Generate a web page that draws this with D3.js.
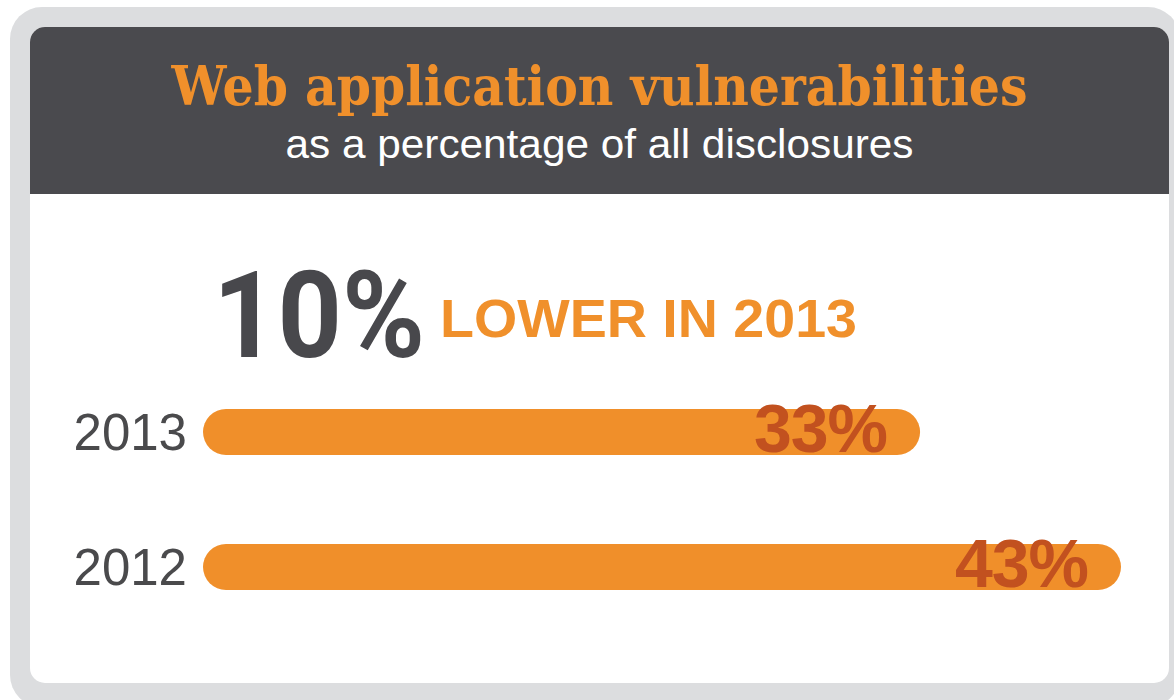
<!DOCTYPE html>
<html>
<head>
<meta charset="utf-8">
<script src="https://cdn.jsdelivr.net/npm/d3@7"></script>
<style>
  html, body { margin: 0; padding: 0; background: #ffffff; }
  svg { display: block; }
</style>
</head>
<body>
<svg id="chart" width="1174" height="700"></svg>
<script>
// Share of all disclosures that were web application vulnerabilities
const years = ["2013", "2012"];
const shares = [33, 43];
const valueLabels = ["33%", "43%"];
const titleText = "Web application vulnerabilities";
const subtitleText = "as a percentage of all disclosures";
const changeValue = "10%";
const changeText = "LOWER IN 2013";

const W = 1174, H = 700;
const svg = d3.select("#chart");

const colors = {
  frame: "#dcdddf",
  header: "#4a4a4e",
  orange: "#f0902b",
  bar: "#f08f2a",
  value: "#c2511f",
  dark: "#48484c",
  year: "#4a4a4c"
};

// Outer grey frame
svg.append("rect")
  .attr("x", 10).attr("y", 7)
  .attr("width", 1170).attr("height", 700)
  .attr("rx", 32).attr("ry", 32)
  .attr("fill", colors.frame);

// White card
const card = { x: 30, y: 27, w: 1139, h: 656, r: 15 };
svg.append("rect")
  .attr("x", card.x).attr("y", card.y)
  .attr("width", card.w).attr("height", card.h)
  .attr("rx", card.r).attr("ry", card.r)
  .attr("fill", "#ffffff");

// Dark header band with rounded top corners
const headerH = 167;
const hp = d3.path();
hp.moveTo(card.x, card.y + headerH);
hp.lineTo(card.x, card.y + card.r);
hp.arcTo(card.x, card.y, card.x + card.r, card.y, card.r);
hp.lineTo(card.x + card.w - card.r, card.y);
hp.arcTo(card.x + card.w, card.y, card.x + card.w, card.y + card.r, card.r);
hp.lineTo(card.x + card.w, card.y + headerH);
hp.closePath();
svg.append("path").attr("d", hp.toString()).attr("fill", colors.header);

const cx = card.x + card.w / 2;

svg.append("text")
  .attr("x", cx).attr("y", 105)
  .attr("text-anchor", "middle")
  .attr("font-family", "'DejaVu Serif', serif")
  .attr("font-weight", "bold")
  .attr("font-size", 55)
  .attr("textLength", 856)
  .attr("lengthAdjust", "spacingAndGlyphs")
  .attr("fill", colors.orange)
  .text(titleText);

svg.append("text")
  .attr("x", cx).attr("y", 158)
  .attr("text-anchor", "middle")
  .attr("font-family", "'Liberation Sans', Arial, sans-serif")
  .attr("font-size", 41)
  .attr("textLength", 628)
  .attr("lengthAdjust", "spacingAndGlyphs")
  .attr("fill", "#ffffff")
  .text(subtitleText);

// Headline figure
svg.append("text")
  .attr("x", 213).attr("y", 357)
  .attr("font-family", "Roboto, 'Liberation Sans', sans-serif")
  .attr("font-weight", 700)
  .attr("font-size", 121)
  .attr("textLength", 212)
  .attr("lengthAdjust", "spacingAndGlyphs")
  .attr("fill", colors.dark)
  .text(changeValue);

svg.append("text")
  .attr("x", 440).attr("y", 337)
  .attr("font-family", "'Liberation Sans', Arial, sans-serif")
  .attr("font-weight", "bold")
  .attr("font-size", 53)
  .attr("textLength", 417)
  .attr("lengthAdjust", "spacingAndGlyphs")
  .attr("fill", colors.orange)
  .text(changeText);

// Bars
const data = years.map((y, i) => ({ year: y, value: shares[i], label: valueLabels[i] }));

const x = d3.scaleLinear().domain([0, 43]).range([257, 1121]);
const barStart = x(0) - 54;
const y = d3.scalePoint().domain(years).range([432, 567]);
const barH = 46;

const rows = svg.append("g").selectAll("g")
  .data(data).join("g");

rows.append("rect")
  .attr("x", barStart)
  .attr("y", d => y(d.year) - barH / 2)
  .attr("width", d => x(d.value) - barStart)
  .attr("height", barH)
  .attr("rx", barH / 2).attr("ry", barH / 2)
  .attr("fill", colors.bar);

rows.append("text")
  .attr("x", barStart - 16)
  .attr("y", d => y(d.year) + 18)
  .attr("text-anchor", "end")
  .attr("font-family", "'Liberation Sans', Arial, sans-serif")
  .attr("font-size", 51)
  .attr("fill", colors.year)
  .text(d => d.year);

rows.append("text")
  .attr("x", d => x(d.value) - 33)
  .attr("y", d => y(d.year) + 20)
  .attr("text-anchor", "end")
  .attr("font-family", "'Liberation Sans', Arial, sans-serif")
  .attr("font-weight", "bold")
  .attr("font-size", 68)
  .attr("letter-spacing", -1)
  .attr("fill", colors.value)
  .text(d => d.label);
</script>
</body>
</html>
